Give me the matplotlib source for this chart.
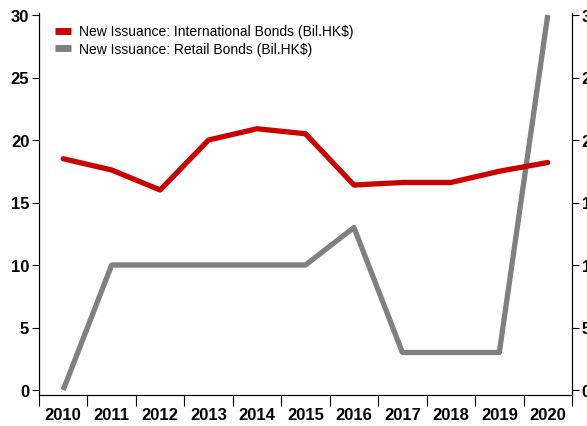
import matplotlib
matplotlib.use("Agg")
import matplotlib.pyplot as plt
from matplotlib import font_manager

years = ["2010", "2011", "2012", "2013", "2014", "2015", "2016", "2017", "2018", "2019", "2020"]
international = [18.5, 17.6, 16.0, 20.0, 20.9, 20.5, 16.4, 16.6, 16.6, 17.5, 18.2]
retail = [0.0, 10.0, 10.0, 10.0, 10.0, 10.0, 13.0, 3.0, 3.0, 3.0, 30.0]
yticks = [0, 5, 10, 15, 20, 25, 30]
label_int = "New Issuance: International Bonds (Bil.HK$)"
label_ret = "New Issuance: Retail Bonds (Bil.HK$)"

names = {f.name for f in font_manager.fontManager.ttflist}
fam = "Liberation Sans Narrow" if "Liberation Sans Narrow" in names else "Liberation Sans"
plt.rcParams["font.family"] = [fam, "DejaVu Sans"]

fig = plt.figure(figsize=(5.87, 4.27), dpi=100)
ax = fig.add_axes([39/587, 31/427, (572-39)/587, (396-14)/427])
x = list(range(len(years)))

ax.plot(x, retail, color="#808080", lw=3.8, solid_capstyle="butt", label=label_ret, zorder=2)
ax.plot(x, international, color="#CC0000", lw=3.8, solid_capstyle="round", label=label_int, zorder=3)

ax.set_xlim(-0.5, len(years) - 0.5)
ax.set_ylim(-0.4, 30.16)
ax.set_yticks(yticks)
ax.set_yticklabels([str(v) for v in yticks], fontsize=12, fontweight="bold")
ax.tick_params(axis="y", direction="out", length=5, width=0.8, pad=2)

ax.set_xticks(x)
ax.set_xticklabels(years, fontsize=12, fontweight="bold")
ax.set_xticks([i - 0.5 for i in range(len(years) + 1)], minor=True)
ax.tick_params(axis="x", which="major", length=0, pad=9)
ax.tick_params(axis="x", which="minor", direction="out", length=8, width=0.8)

ax.spines["top"].set_visible(False)
for s in ["left", "right", "bottom"]:
    ax.spines[s].set_linewidth(0.8)

ax2 = ax.twinx()
ax2.set_ylim(ax.get_ylim())
ax2.set_yticks(yticks)
ax2.set_yticklabels([str(v) for v in yticks], fontsize=12, fontweight="bold")
ax2.tick_params(axis="y", direction="out", length=5, width=0.8, pad=2)
ax2.spines["top"].set_visible(False)
ax2.spines["right"].set_linewidth(0.8)

h1, l1 = ax.get_legend_handles_labels()
leg = ax.legend(h1[::-1], l1[::-1], loc="upper left", bbox_to_anchor=(0.03, 0.97),
                frameon=False, fontsize=10, handlelength=1.15, handletextpad=0.6,
                labelspacing=0.25, borderpad=0, borderaxespad=0)
for ln in leg.get_lines():
    ln.set_linewidth(5)
    ln.set_solid_capstyle("butt")

fig.savefig("out.png", dpi=100)
